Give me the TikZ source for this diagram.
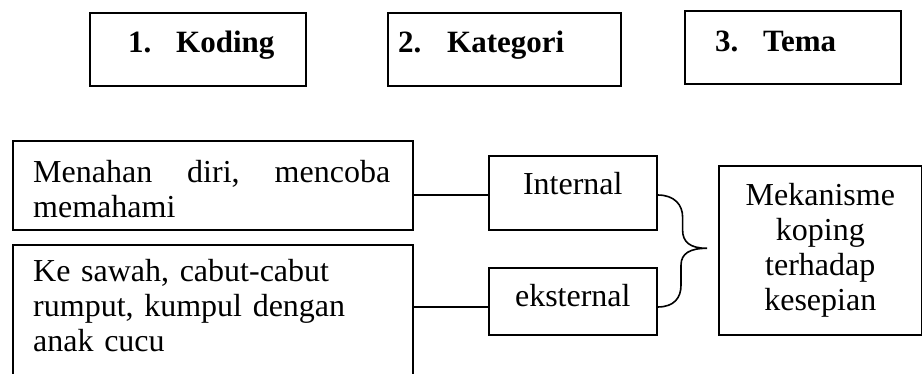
\documentclass[tikz,border=0pt]{standalone}
\usepackage{fontspec}
\setmainfont{Liberation Serif}
\usetikzlibrary{calc}

\begin{document}
\begin{tikzpicture}[x=1pt,y=-1pt]
	\tikzstyle{kotak} = [draw, line width=1.6pt, inner sep=0pt, anchor=north west]
	\tikzstyle{judul} = [anchor=base west, inner sep=0pt, font=\fontsize{31}{35}\selectfont\bfseries]
	\tikzstyle{isi} = [inner sep=0pt, font=\fontsize{32}{35}\selectfont]
	\tikzstyle{garis} = [line width=1.6pt]
	\clip (0,0) rectangle (922,374);
	\node[kotak, minimum width=216pt, minimum height=73pt] (koding) at (89,12) {};
	\node[judul] (tkoding) at ($(koding.north west)+(39,41)$) {\makebox[48pt][l]{1.}Koding};
	\node[kotak, minimum width=233pt, minimum height=73pt] (kategori) at (387,12) {};
	\node[judul] (tkategori) at ($(kategori.north west)+(11,41)$) {\makebox[49pt][l]{2.}Kategori};
	\node[kotak, minimum width=216pt, minimum height=73pt] (tema) at (684,10) {};
	\node[judul] (ttema) at ($(tema.north west)+(31,42)$) {\makebox[48pt][l]{3.}Tema};
	\node[kotak, minimum width=400pt, minimum height=89pt] (menahan) at (12,140) {};
	\node[isi, anchor=base west, text width=357pt, align=left] (tmenahan) at ($(menahan.north west)+(21,43)$) {Menahan\hfill diri,\hfill mencoba\\memahami};
	\node[kotak, minimum width=400pt, minimum height=140pt] (sawah) at (12,244) {};
	\node[isi, anchor=base west, text width=370pt, align=left] (tsawah) at ($(sawah.north west)+(21,38)$) {Ke sawah, cabut-cabut\\rumput, kumpul dengan\\anak cucu};
	\node[kotak, minimum width=168pt, minimum height=74pt] (internal) at (488,155) {};
	\node[isi, anchor=base] (tinternal) at ($(internal.north)+(0,40)$) {Internal};
	\node[kotak, minimum width=168pt, minimum height=67pt] (eksternal) at (488,267) {};
	\node[isi, anchor=base] (teksternal) at ($(eksternal.north)+(0,40)$) {eksternal};
	\node[kotak, minimum width=203pt, minimum height=169pt] (mek) at (718,165) {};
	\node[isi, align=center] (tmek) at (mek.center) {Mekanisme\\koping\\terhadap\\kesepian};
	\coordinate (ki) at ($(internal.north west)+(0,40)$);
	\coordinate (ke) at ($(eksternal.north west)+(0,40)$);
	\coordinate (bi) at ($(internal.north east)+(0,40)$);
	\coordinate (be) at ($(eksternal.north east)+(0,40)$);
	\coordinate (ujung) at ($(mek.west)+(-11,-2)$);
	\draw[garis] (menahan.east |- ki) -- (ki);
	\draw[garis] (sawah.east |- ke) -- (ke);
	\draw[garis] (bi) .. controls +(17,0) and +(0,-12) .. ++(25,22) -- ++(0,13) .. controls +(0,12) and +(-17,0) .. (ujung) .. controls +(-17,0) and +(0,-12) .. ++(-26,17) -- ++(0,20) .. controls +(0,12) and +(17,0) .. (be);
\end{tikzpicture}
\end{document}
